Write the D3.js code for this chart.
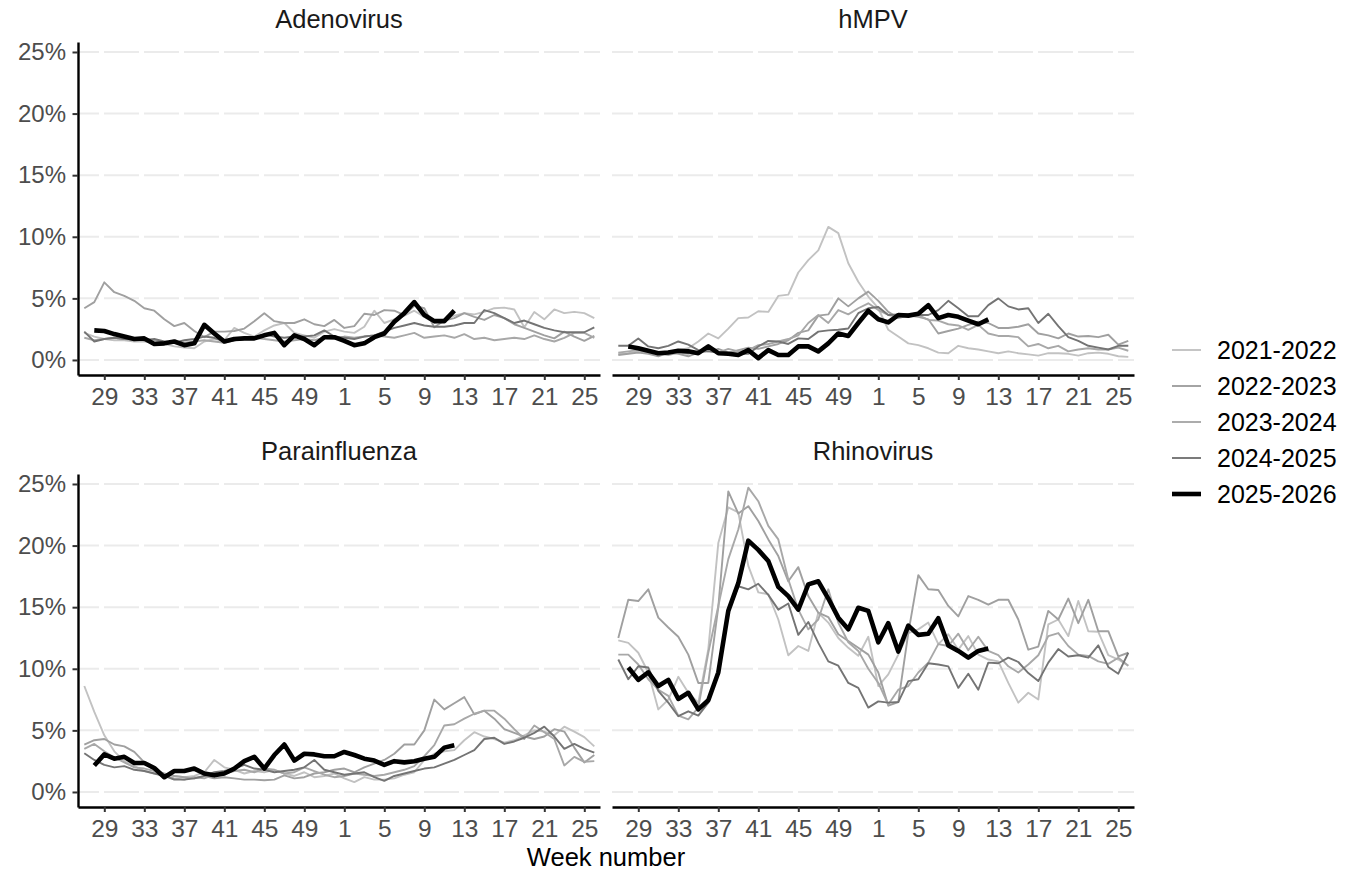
<!DOCTYPE html>
<html>
<head>
<meta charset="utf-8">
<title>Weekly positivity by virus</title>
<script src="https://d3js.org/d3.v7.min.js"></script>
<style>
  body { margin: 0; background: #fff; }
  text { font-family: "Liberation Sans", Arial, sans-serif; }
</style>
</head>
<body>
<svg id="chart" width="1346" height="874"></svg>
<script>
// season weeks: week 27 of year one through week 26 of year two
var weeks = [27,28,29,30,31,32,33,34,35,36,37,38,39,40,41,42,43,44,45,46,47,48,49,50,51,52,
             1,2,3,4,5,6,7,8,9,10,11,12,13,14,15,16,17,18,19,20,21,22,23,24,25,26];
var tickWeeks = [29,33,37,41,45,49,1,5,9,13,17,21,25];
var yTicks = [0,5,10,15,20,25];

var seasons = ["2021-2022","2022-2023","2023-2024","2024-2025","2025-2026"];
var viruses = ["Adenovirus","hMPV","Parainfluenza","Rhinovirus"];

// percent positive, one value per week (current season starts week 28, runs to week 12)
var adeno_2122 = [2.2,1.9,1.7,1.6,1.6,1.5,1.5,1.4,1.3,1.1,1.0,0.95,1.5,1.7,1.6,2.6,2.2,1.9,2.4,2.8,3.0,2.2,2.0,1.8,2.3,2.5,
                  2.3,2.2,2.7,4.0,3.0,3.3,3.6,4.0,3.5,3.0,3.3,3.6,3.8,3.7,3.9,4.2,4.25,4.1,2.65,3.9,3.3,4.1,3.8,3.9,3.8,3.4];
var adeno_2223 = [4.2,4.7,6.3,5.5,5.2,4.8,4.2,4.0,3.3,2.75,3.0,2.35,1.85,2.3,2.3,2.35,2.55,3.15,3.8,3.15,3.0,3.0,3.3,2.9,2.75,3.25,
                  2.6,2.75,3.75,3.65,4.05,4.0,3.65,4.4,4.2,2.65,3.2,3.4,3.8,3.5,3.25,3.65,3.4,2.9,2.6,2.3,2.0,1.75,2.3,1.9,1.55,1.95];
var adeno_2324 = [1.8,1.6,1.7,1.8,1.7,1.6,1.7,1.6,1.4,1.5,1.4,1.5,1.6,1.5,1.4,1.6,1.7,1.8,1.7,1.6,1.5,1.6,1.7,1.6,1.8,1.7,
                  1.9,1.8,1.9,2.0,1.9,1.8,2.0,2.2,1.8,1.9,2.0,1.8,2.1,1.7,1.8,1.6,1.7,1.8,1.7,2.0,1.7,1.5,1.8,2.2,2.2,1.8];
var adeno_2425 = [2.3,1.5,1.7,1.8,1.7,1.7,1.6,1.7,1.5,1.4,1.6,1.7,1.9,1.8,1.5,1.6,1.7,1.8,2.1,1.9,1.8,1.9,1.9,2.0,2.4,1.9,
                  1.8,1.7,1.9,2.0,2.3,2.6,2.8,3.0,2.8,2.7,2.7,2.8,3.0,3.0,4.05,3.8,3.4,3.0,3.2,2.9,2.6,2.4,2.25,2.25,2.25,2.65];
var adeno_2526 = [null,2.4,2.35,2.1,1.9,1.7,1.75,1.3,1.35,1.5,1.2,1.35,2.85,2.15,1.5,1.7,1.75,1.75,2.0,2.2,1.2,2.0,1.7,1.2,1.85,1.85,
                  1.55,1.2,1.35,1.85,2.15,3.1,3.8,4.7,3.65,3.15,3.15,4.0];

var hmpv_2122 = [0.5,0.55,0.7,0.55,0.5,0.7,0.8,0.95,1.5,2.15,1.75,2.55,3.4,3.45,3.95,3.9,5.2,5.3,7.1,8.1,8.9,10.8,10.3,7.85,6.35,5.15,
                 4.2,2.45,1.9,1.35,1.2,0.95,0.6,0.55,1.15,0.95,0.85,0.7,0.55,0.7,0.55,0.45,0.35,0.55,0.55,0.5,0.35,0.55,0.6,0.5,0.3,0.25];
var hmpv_2223 = [0.4,0.5,0.6,0.5,0.3,0.6,0.5,0.3,0.6,0.7,0.9,0.6,0.8,1.0,0.9,1.1,1.3,1.6,2.2,2.4,3.6,3.7,5.0,4.35,5.0,5.55,
                 4.8,3.9,3.4,3.6,3.5,3.3,2.15,2.35,2.55,2.85,3.1,3.0,2.6,2.6,2.7,2.9,2.15,2.0,1.75,2.15,1.9,1.95,1.85,2.05,1.25,1.55];
var hmpv_2324 = [0.6,0.7,0.8,0.6,0.5,0.4,0.6,0.5,0.7,0.8,0.6,0.9,0.7,0.8,1.2,1.3,1.5,1.7,2.0,3.0,3.65,3.0,4.05,3.7,4.2,4.6,
                 4.05,3.65,3.5,3.6,3.65,3.25,3.2,2.9,2.8,2.45,2.85,2.15,1.95,1.95,1.85,1.1,1.3,0.95,1.15,0.7,0.85,0.95,0.85,0.85,1.0,0.75];
var hmpv_2425 = [1.15,1.15,1.75,1.1,0.95,1.15,1.5,1.25,0.8,0.7,0.6,0.55,0.5,0.5,1.1,1.55,1.5,1.3,1.75,1.7,2.3,2.4,2.45,2.55,3.8,4.2,
                 4.3,3.65,3.7,3.7,3.65,3.65,4.05,4.8,4.2,3.55,3.55,4.45,5.0,4.35,4.1,4.2,3.0,3.75,2.75,1.85,1.55,1.15,1.0,0.85,1.15,1.15];
var hmpv_2526 = [null,1.1,0.95,0.75,0.55,0.6,0.75,0.7,0.55,1.1,0.55,0.5,0.4,0.8,0.15,0.8,0.4,0.4,1.1,1.1,0.7,1.35,2.15,1.95,3.0,4.0,
                 3.3,3.05,3.65,3.6,3.75,4.45,3.4,3.65,3.5,3.2,2.9,3.3];

var para_2122 = [8.6,6.5,4.6,3.3,2.5,2.1,1.7,1.5,1.4,1.3,1.2,1.3,1.6,2.6,2.0,1.8,1.5,1.7,1.6,1.8,1.5,1.3,1.6,1.2,1.3,1.5,
                 1.1,0.8,1.2,1.0,1.0,1.1,1.4,1.6,2.6,3.1,3.3,3.4,4.2,4.85,4.5,4.3,4.0,4.2,4.6,5.0,4.9,4.6,5.3,4.9,4.45,3.7];
var para_2223 = [3.85,4.2,4.3,3.85,3.7,3.25,2.4,1.75,1.5,1.3,1.2,1.1,1.3,1.1,1.2,1.1,1.0,1.0,0.95,1.0,1.35,1.1,1.2,1.5,1.6,1.8,
                 1.9,1.6,2.0,2.3,2.6,3.1,3.85,3.85,5.0,7.5,6.7,7.2,7.7,6.3,6.6,5.95,5.1,4.8,4.5,4.3,4.5,5.1,4.9,3.6,2.4,3.0];
var para_2324 = [3.5,3.9,3.3,2.8,2.4,2.0,1.9,1.7,1.3,1.1,1.0,1.2,1.1,1.4,1.5,1.7,1.8,1.6,1.9,1.8,1.5,1.6,2.0,1.7,1.4,1.2,
                 1.3,1.5,1.4,1.3,1.4,1.6,1.8,2.1,2.9,3.8,5.4,5.5,5.95,6.35,6.6,6.6,5.95,5.1,4.3,5.4,4.85,4.3,2.15,2.85,2.45,2.5];
var para_2425 = [3.15,2.6,2.2,2.0,2.1,1.8,1.7,1.5,1.3,1.0,1.0,1.1,1.3,1.6,1.7,1.9,2.2,1.9,1.8,1.6,1.7,1.8,2.0,2.6,1.8,1.6,
                 1.4,1.5,1.6,1.2,0.9,1.3,1.5,1.7,1.9,2.0,2.3,2.6,3.0,3.4,4.3,4.4,3.9,4.1,4.4,4.8,5.3,4.5,3.5,3.9,3.5,3.2];
var para_2526 = [null,2.15,3.05,2.7,2.85,2.35,2.35,1.95,1.2,1.7,1.7,1.9,1.5,1.35,1.5,1.9,2.5,2.85,1.9,3.0,3.85,2.55,3.1,3.05,2.9,2.9,
                 3.25,3.0,2.7,2.55,2.2,2.5,2.4,2.5,2.7,2.85,3.6,3.8];

var rhino_2122 = [12.3,12.1,11.3,9.7,6.7,7.5,9.35,8.05,7.25,11.6,20.2,23.1,22.7,18.35,16.2,16.05,14.0,11.1,11.85,11.45,14.55,13.75,12.5,11.7,11.05,12.6,
                  8.6,9.55,11.15,12.9,13.2,13.75,12.0,12.8,11.55,12.65,11.15,10.75,10.6,8.85,7.25,8.05,7.5,13.6,14.0,12.65,15.5,13.05,13.0,11.1,10.75,10.25];
var rhino_2223 = [12.5,15.6,15.5,16.45,14.15,13.35,12.6,11.15,8.85,8.85,15.0,24.4,22.6,23.2,22.0,20.5,19.15,17.1,18.25,15.9,14.55,14.2,12.8,12.25,11.7,11.15,
                  9.7,7.0,7.3,12.9,17.6,16.45,16.4,15.1,14.25,15.9,15.6,15.2,15.6,15.6,14.0,11.55,11.8,14.7,14.0,15.7,13.7,15.6,13.05,13.05,11.0,11.3];
var rhino_2324 = [11.15,11.15,10.35,9.15,8.3,7.8,6.2,5.9,6.85,11.3,15.1,18.9,21.3,24.7,23.6,21.6,20.5,17.25,14.8,13.2,14.0,16.45,13.75,12.15,11.45,10.0,
                  8.85,7.1,8.3,8.6,9.7,10.5,12.0,11.85,12.85,11.5,12.6,11.45,11.1,10.2,9.7,10.35,11.1,12.65,12.9,11.85,11.15,11.05,10.6,10.4,10.9,10.25];
var rhino_2425 = [10.75,9.15,10.2,10.1,8.2,7.25,6.15,6.55,6.2,7.25,9.7,14.55,16.7,16.45,16.9,16.0,14.8,15.3,12.75,13.8,12.1,10.6,10.25,8.85,8.45,6.85,
                  7.35,7.25,7.3,9.0,9.15,10.45,10.35,10.2,8.45,9.6,8.3,10.5,10.45,10.9,10.55,9.65,9.0,10.5,11.6,11.0,11.1,10.9,11.9,10.15,9.6,11.3];
var rhino_2526 = [null,10.1,9.1,9.7,8.6,9.1,7.55,8.05,6.7,7.45,9.7,14.7,16.95,20.4,19.65,18.75,16.65,15.9,14.8,16.85,17.1,15.7,14.15,13.2,14.95,14.7,
                  12.15,13.7,11.4,13.5,12.75,12.85,14.1,11.9,11.45,10.9,11.45,11.65];

var panelData = {
  "Adenovirus":    [adeno_2122, adeno_2223, adeno_2324, adeno_2425, adeno_2526],
  "hMPV":          [hmpv_2122, hmpv_2223, hmpv_2324, hmpv_2425, hmpv_2526],
  "Parainfluenza": [para_2122, para_2223, para_2324, para_2425, para_2526],
  "Rhinovirus":    [rhino_2122, rhino_2223, rhino_2324, rhino_2425, rhino_2526]
};

var seasonColor = ["#c2c2c2", "#a0a0a0", "#a8a8a8", "#747474", "#000000"];
var seasonWidth = [1.9, 1.9, 1.9, 1.9, 4.6];

var panelW = 522, panelH = 333;
var colX = [78, 612], rowY = [42, 474];

var svg = d3.select("#chart");

var x = d3.scaleLinear().domain([-0.63, 51.57]).range([0, panelW]);
var y = d3.scaleLinear().domain([-1.22, 25.81]).range([panelH, 0]);

var line = d3.line()
    .defined(d => d.v != null)
    .x(d => x(d.i))
    .y(d => y(d.v))
    .curve(d3.curveLinear);

viruses.forEach(function(name, k) {
    var col = k % 2, row = Math.floor(k / 2);
    var g = svg.append("g").attr("transform", "translate(" + colX[col] + "," + rowY[row] + ")");

    // strip label
    g.append("text")
        .attr("x", panelW / 2)
        .attr("y", -14)
        .attr("text-anchor", "middle")
        .attr("font-size", 25.5)
        .attr("fill", "#1a1a1a")
        .text(name);

    // dashed horizontal grid
    g.selectAll("line.grid")
        .data(yTicks)
        .enter()
        .append("line")
        .attr("class", "grid")
        .attr("x1", 0)
        .attr("x2", panelW)
        .attr("y1", d => y(d))
        .attr("y2", d => y(d))
        .attr("stroke", "#ebebeb")
        .attr("stroke-width", 2)
        .attr("stroke-dasharray", "35,5")
        .attr("stroke-dashoffset", 14);

    // season lines, current season last so it sits on top
    panelData[name].forEach(function(values, s) {
        var pts = values.map((v, i) => ({i: i, v: v}));
        g.append("path")
            .datum(pts)
            .attr("d", line)
            .attr("fill", "none")
            .attr("stroke", seasonColor[s])
            .attr("stroke-width", seasonWidth[s])
            .attr("stroke-linejoin", "round");
    });

    var xAxis = d3.axisBottom(x)
        .tickValues(tickWeeks.map(w => weeks.indexOf(w)))
        .tickFormat(i => weeks[i])
        .tickSize(5)
        .tickSizeOuter(0)
        .tickPadding(8);

    var gx = g.append("g").attr("transform", "translate(0," + panelH + ")").call(xAxis);
    gx.select(".domain").attr("stroke", "#000").attr("stroke-width", 2.4);
    gx.selectAll(".tick line").attr("stroke", "#333").attr("stroke-width", 2);
    gx.selectAll(".tick text").attr("font-size", 24.5).attr("fill", "#4d4d4d")
        .attr("font-family", "'Liberation Sans', Arial, sans-serif");

    if (col === 0) {
        var yAxis = d3.axisLeft(y)
            .tickValues(yTicks)
            .tickFormat(d => d + "%")
            .tickSize(5.5)
            .tickSizeOuter(0)
            .tickPadding(6.5);
        var gy = g.append("g").call(yAxis);
        gy.select(".domain").attr("stroke", "#000").attr("stroke-width", 2.4);
        gy.selectAll(".tick line").attr("stroke", "#333").attr("stroke-width", 2);
        gy.selectAll(".tick text").attr("font-size", 24).attr("fill", "#4d4d4d")
            .attr("font-family", "'Liberation Sans', Arial, sans-serif");
    }
});

svg.append("text")
    .attr("x", 606)
    .attr("y", 866)
    .attr("text-anchor", "middle")
    .attr("font-size", 25.5)
    .attr("fill", "#000")
    .text("Week number");

// legend
var legend = svg.append("g").attr("transform", "translate(1172,350)");
var items = legend.selectAll("g.item")
    .data(seasons)
    .enter()
    .append("g")
    .attr("class", "item")
    .attr("transform", (d, i) => "translate(0," + (i * 36) + ")");

items.append("line")
    .attr("x1", 0).attr("x2", 29)
    .attr("y1", 0).attr("y2", 0)
    .attr("stroke", (d, i) => seasonColor[i])
    .attr("stroke-width", (d, i) => seasonWidth[i]);

items.append("text")
    .attr("x", 45)
    .attr("y", 0)
    .attr("dy", "0.35em")
    .attr("font-size", 25)
    .attr("fill", "#000")
    .text(d => d);
</script>
</body>
</html>
